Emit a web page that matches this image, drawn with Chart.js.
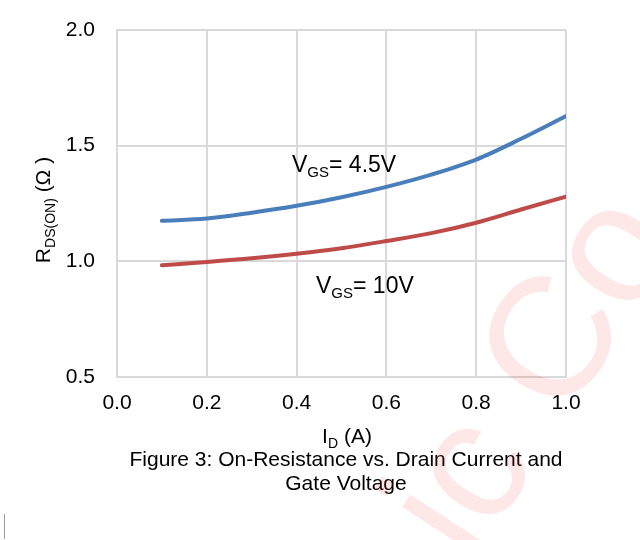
<!DOCTYPE html>
<html>
<head>
<meta charset="utf-8">
<script src="https://cdn.jsdelivr.net/npm/chart.js@4/dist/chart.umd.min.js"></script>
<style>
  html, body { margin: 0; padding: 0; background: #ffffff; }
  #wrap { width: 640px; height: 540px; }
</style>
</head>
<body>
<div id="wrap"><canvas id="c" width="640" height="540"></canvas></div>
<script>
// ---- data ----
const drainCurrent = [0.1, 0.2, 0.3, 0.4, 0.5, 0.6, 0.7, 0.8, 0.9, 1.0];
const rdsVgs45 = [1.175, 1.185, 1.210, 1.240, 1.277, 1.322, 1.375, 1.440, 1.530, 1.628];
const rdsVgs10 = [0.983, 0.997, 1.013, 1.033, 1.057, 1.088, 1.122, 1.167, 1.224, 1.280];
const xTicks = [0.0, 0.2, 0.4, 0.6, 0.8, 1.0];
const yTicks = [0.5, 1.0, 1.5, 2.0];
const seriesLabels = ["VGS= 4.5V", "VGS= 10V"];
const captionLines = ["Figure 3: On-Resistance vs. Drain Current and", "Gate Voltage"];

const FONT = "'Liberation Sans', Arial, Helvetica, sans-serif";
const GRID = "#d9d9d9";

function pts(ys) { return drainCurrent.map((x, i) => ({ x: x, y: ys[i] })); }

function drawParts(ctx, parts, x, y, align) {
  let total = 0;
  parts.forEach(p => { ctx.font = p.size + "px " + FONT; p.w = ctx.measureText(p.t).width; total += p.w; });
  let cx = align === "center" ? x - total / 2 : x;
  ctx.textAlign = "left";
  ctx.textBaseline = "alphabetic";
  parts.forEach(p => {
    ctx.font = p.size + "px " + FONT;
    ctx.fillText(p.t, cx, y + (p.dy || 0));
    cx += p.w;
  });
}

const textPlugin = {
  id: "texts",
  beforeDraw(chart) {
    const ctx = chart.ctx;
    ctx.save();
    ctx.fillStyle = "#ffffff";
    ctx.fillRect(0, 0, chart.width, chart.height);
    ctx.restore();
  },
  afterDraw(chart) {
    const ctx = chart.ctx;
    ctx.save();
    ctx.fillStyle = "#000000";
    // series annotations
    drawParts(ctx, [
      { t: "V", size: 23 }, { t: "GS", size: 15, dy: 5 }, { t: "= 4.5V", size: 23 }
    ], 292, 172, "left");
    drawParts(ctx, [
      { t: "V", size: 23 }, { t: "GS", size: 15, dy: 5 }, { t: "= 10V", size: 23 }
    ], 316, 293, "left");
    // x axis title
    drawParts(ctx, [
      { t: "I", size: 21 }, { t: "D", size: 14, dy: 5 }, { t: " (A)", size: 21 }
    ], 347, 443, "center");
    // y axis title (rotated)
    ctx.save();
    ctx.translate(50, 210);
    ctx.rotate(-Math.PI / 2);
    drawParts(ctx, [
      { t: "R", size: 21 }, { t: "DS(ON)", size: 14, dy: 5 }, { t: " (\u03A9 )", size: 21 }
    ], 0, 0, "center");
    ctx.restore();
    // caption
    ctx.font = "21px " + FONT;
    ctx.textAlign = "center";
    ctx.textBaseline = "alphabetic";
    ctx.fillText(captionLines[0], 346, 466);
    ctx.fillText(captionLines[1], 346, 490);
    // small mark bottom-left
    ctx.strokeStyle = "#9a9a9a";
    ctx.lineWidth = 1;
    ctx.beginPath();
    ctx.moveTo(4.5, 514);
    ctx.lineTo(4.5, 539);
    ctx.stroke();
    // watermark
    ctx.save();
    ctx.translate(546, 338);
    ctx.rotate(-57 * Math.PI / 180);
    ctx.font = "170px " + FONT;
    ctx.fillStyle = "rgba(245, 60, 60, 0.12)";
    ctx.textAlign = "left";
    const pre = ctx.measureText("ic ").width;
    const cw = ctx.measureText("C").width;
    ctx.fillText("ic Co", -(pre + cw / 2), 0.36 * 170);
    ctx.restore();
    ctx.restore();
  }
};

new Chart(document.getElementById("c"), {
  type: "line",
  data: {
    datasets: [
      { label: seriesLabels[0], data: pts(rdsVgs45), borderColor: "#4a7ebb", borderWidth: 4,
        pointRadius: 0, tension: 0.4, cubicInterpolationMode: "monotone", fill: false, borderCapStyle: "round" },
      { label: seriesLabels[1], data: pts(rdsVgs10), borderColor: "#be4b48", borderWidth: 4,
        pointRadius: 0, tension: 0.4, cubicInterpolationMode: "monotone", fill: false, borderCapStyle: "round" }
    ]
  },
  options: {
    responsive: false,
    animation: false,
    layout: { padding: { top: 30, right: 74, left: 0, bottom: 0 } },
    plugins: { legend: { display: false }, tooltip: { enabled: false }, title: { display: false } },
    scales: {
      x: {
        type: "linear", min: 0, max: 1,
        afterBuildTicks: s => { s.ticks = xTicks.map(v => ({ value: v })); },
        afterFit: s => { s.height = 163; s.paddingLeft = 0; s.paddingRight = 0; },
        ticks: { callback: v => Number(v).toFixed(1), font: { family: FONT, size: 21 }, color: "#000", padding: 14, maxRotation: 0 },
        grid: { color: GRID, lineWidth: 2, drawTicks: false },
        border: { color: GRID, width: 2 }
      },
      y: {
        min: 0.5, max: 2.0,
        afterBuildTicks: s => { s.ticks = yTicks.map(v => ({ value: v })); },
        afterFit: s => { s.width = 117; s.paddingTop = 0; s.paddingBottom = 0; },
        ticks: { callback: v => Number(v).toFixed(1), font: { family: FONT, size: 21 }, color: "#000", padding: 22 },
        grid: { color: GRID, lineWidth: 2, drawTicks: false },
        border: { color: GRID, width: 2 }
      }
    }
  },
  plugins: [textPlugin]
});
</script>
</body>
</html>
